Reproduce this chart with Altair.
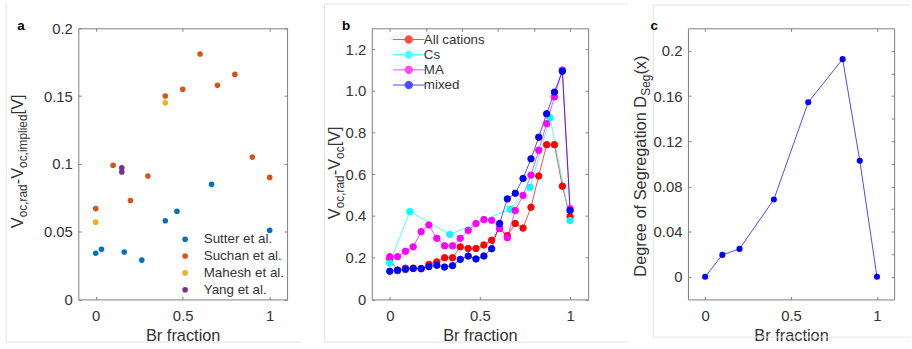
import altair as alt
import pandas as pd

FONT = "Liberation Sans"
TXT = "#333333"
FRAME = "#808080"
BORDER = "#e2e2e2"

# ---------------- data: panel a ----------------
sutter_x = [0.0, 0.033, 0.164, 0.265, 0.40, 0.467, 0.666, 1.0]
sutter_y = [0.034, 0.037, 0.035, 0.029, 0.058, 0.065, 0.085, 0.051]
suchan_x = [0.0, 0.1, 0.2, 0.3, 0.4, 0.5, 0.6, 0.7, 0.8, 0.9, 1.0]
suchan_y = [0.067, 0.099, 0.073, 0.091, 0.150, 0.155, 0.181, 0.158, 0.166, 0.105, 0.090]
mahesh_x = [0.0, 0.4]
mahesh_y = [0.057, 0.145]
yang_x = [0.15, 0.15]
yang_y = [0.097, 0.094]
a_names = ["Sutter et al.", "Suchan et al.", "Mahesh et al.", "Yang et al."]
a_colors = ["#0072BD", "#D95319", "#EDB120", "#7E2F8E"]

# ---------------- data: panel b ----------------
b_x = [0.0, 0.043, 0.087, 0.130, 0.174, 0.217, 0.261, 0.304, 0.348, 0.391, 0.435, 0.478,
       0.522, 0.565, 0.609, 0.652, 0.696, 0.739, 0.783, 0.826, 0.870, 0.913, 0.957, 1.0]
all_cations = [0.195, 0.138, 0.150, 0.150, 0.147, 0.168, 0.180, 0.200, 0.200, 0.252, 0.244, 0.244,
               0.261, 0.284, 0.340, 0.306, 0.364, 0.342, 0.442, 0.592, 0.742, 0.742, 0.543, 0.397]
cs_x = [0.0, 0.111, 0.333, 0.667, 0.778, 0.889, 1.0]
cs_y = [0.174, 0.421, 0.312, 0.432, 0.538, 0.871, 0.378]
ma_y = [0.205, 0.205, 0.231, 0.252, 0.325, 0.357, 0.293, 0.257, 0.257, 0.293, 0.331, 0.364,
        0.383, 0.379, 0.342, 0.296, 0.426, 0.499, 0.596, 0.715, 0.843, 0.971, 1.100, 0.435]
mixed_y = [0.135, 0.141, 0.144, 0.148, 0.148, 0.157, 0.164, 0.155, 0.162, 0.192, 0.208, 0.194,
           0.208, 0.243, 0.364, 0.482, 0.509, 0.580, 0.674, 0.778, 0.890, 0.994, 1.094, 0.426]
b_names = ["All cations", "Cs", "MA", "mixed"]
b_colors = ["#FF0000", "#00FFFF", "#FF00FF", "#0000FF"]

# ---------------- data: panel c ----------------
c_x = [0.0, 0.1, 0.2, 0.4, 0.6, 0.8, 0.9, 1.0]
c_y = [0.0, 0.0194, 0.0247, 0.0685, 0.1545, 0.1927, 0.1028, 0.0]

# ---------------- text helpers ----------------
NBSP = "\u00a0"
ARIAL = {' ': 278, NBSP: 278, '(': 333, ')': 333, ',': 278, '-': 333, '.': 278, '[': 278,
         ']': 278, 'D': 722, 'S': 667, 'V': 667, 'a': 556, 'c': 500, 'd': 556, 'e': 556,
         'f': 278, 'g': 556, 'i': 222, 'l': 222, 'm': 833, 'n': 556, 'o': 556, 'p': 556,
         'r': 333, 't': 278, 'x': 500}


def tw(s, size):
    return sum(ARIAL[ch] for ch in s) * size / 1000.0


MAIN, SUB, SHIFT = 16.5, 12.0, 4.0


def ytitle(frags, x0, yc):
    total = sum(tw(t, SUB if s else MAIN) for t, s in frags)
    y = yc + total / 2
    layers = []
    for t, s in frags:
        fs = SUB if s else MAIN
        layers.append(
            alt.Chart(pd.DataFrame({"t": [t]})).mark_text(
                angle=270, align="left", baseline="alphabetic", font=FONT,
                fontSize=fs, color=TXT
            ).encode(text="t:N", x=alt.value(x0 + (SHIFT if s else 0)), y=alt.value(y))
        )
        y -= tw(t, fs)
    return layers


def label(txt, x, y):
    return alt.Chart(pd.DataFrame({"t": [txt]})).mark_text(
        align="left", baseline="alphabetic", font=FONT, fontSize=13.5,
        fontWeight="bold", color="black"
    ).encode(text="t:N", x=alt.value(x), y=alt.value(y))


def rule(x1, y1, x2, y2):
    return alt.Chart(pd.DataFrame({"t": [0]})).mark_rule(
        color=BORDER, strokeWidth=1
    ).encode(x=alt.value(x1), x2=alt.value(x2), y=alt.value(y1), y2=alt.value(y2))


def anchor(l, r, t, b):
    return alt.Chart(pd.DataFrame({"t": [0]})).mark_rect(opacity=0).encode(
        x=alt.value(l), x2=alt.value(r), y=alt.value(t), y2=alt.value(b))


def ax_bottom(values):
    return alt.Axis(orient="bottom", values=values, format="~g", title="Br fraction",
                    domain=False, grid=False, tickSize=3, offset=-3, tickColor=FRAME,
                    labelFont=FONT, labelFontSize=15, labelColor=TXT, labelPadding=9,
                    titleFont=FONT, titleFontSize=16.5, titleFontWeight="normal",
                    titleColor=TXT, titlePadding=4.5)


def ax_left(values, fmt=None, expr=None):
    kw = dict(orient="left", values=values, title=None, domain=False, grid=False,
              tickSize=3, offset=-3, tickColor=FRAME, labelFont=FONT, labelFontSize=15,
              labelColor=TXT, labelPadding=6)
    if fmt:
        kw["format"] = fmt
    if expr:
        kw["labelExpr"] = expr
    return alt.Axis(**kw)


def ax_minor(orient, values):
    return alt.Axis(orient=orient, values=values, title=None, labels=False, domain=False,
                    grid=False, tickSize=3, offset=-3, tickColor=FRAME)


TOP = 26.5
H = 273.5

# ================= panel a =================
rows = []
for n, xs, ys in [(a_names[0], sutter_x, sutter_y), (a_names[1], suchan_x, suchan_y),
                  (a_names[2], mahesh_x, mahesh_y), (a_names[3], yang_x, yang_y)]:
    for xv, yv in zip(xs, ys):
        rows.append({"x": xv, "y": yv, "src": n})
dfa = pd.DataFrame(rows)
WA, LA = 210.6, 77.7
xsa = alt.Scale(domain=[-0.05, 1.05])
ysa = alt.Scale(domain=[0, 0.2])

pts_a = alt.Chart(dfa).mark_circle(size=32, opacity=1).encode(
    x=alt.X("x:Q", scale=xsa, axis=ax_bottom([0, 0.5, 1])),
    y=alt.Y("y:Q", scale=ysa, axis=ax_left([0, 0.05, 0.1, 0.15, 0.2], fmt="~g")),
    color=alt.Color("src:N", scale=alt.Scale(domain=a_names, range=a_colors),
                    legend=alt.Legend(orient="none", legendX=101, legendY=206, title=None,
                                      labelFont=FONT, labelFontSize=13.5, labelColor=TXT,
                                      symbolType="circle", symbolSize=32, rowPadding=2,
                                      labelOffset=12, padding=0)),
)
ghost_a = alt.Chart(dfa).mark_point(opacity=0).encode(
    x=alt.X("x:Q", axis=ax_minor("top", [0, 0.5, 1])),
    y=alt.Y("y:Q", axis=ax_minor("right", [0, 0.05, 0.1, 0.15, 0.2])),
)
title_a = ytitle([("V", False), ("oc,rad", True), ("-V", False), ("oc,implied", True),
                  (NBSP + "[V]", False)], -55.7, 131.9)
panel_a = alt.layer(
    anchor(-LA, 306 - LA, -TOP, 349 - TOP),
    rule(5 - LA, 2 - TOP, 5 - LA, 343 - TOP),
    rule(5 - LA, 343 - TOP, 304 - LA, 343 - TOP),
    pts_a, ghost_a, *title_a, label("a", 16 - LA, 28 - TOP)
).resolve_axis(x="independent", y="independent").properties(width=WA, height=H)

# ================= panel b =================
rows = []
for n, xs, ys in [(b_names[0], b_x, all_cations), (b_names[1], cs_x, cs_y),
                  (b_names[2], b_x, ma_y), (b_names[3], b_x, mixed_y)]:
    for xv, yv in zip(xs, ys):
        rows.append({"x": xv, "y": yv, "s": n})
dfb = pd.DataFrame(rows)
WB, LB = 218.3, 371.7
xsb = alt.Scale(domain=[-0.05, 1.05])
ysb = alt.Scale(domain=[0, 1.3])
csb = alt.Scale(domain=b_names, range=b_colors)
sym = "M-4,0L4,0M0.95,0A0.95,0.95,0,1,1,-0.95,0A0.95,0.95,0,1,1,0.95,0Z"
leg_b = alt.Legend(orient="none", legendX=30.6, legendY=4.6, title=None, labelFont=FONT,
                   labelFontSize=13.5, labelColor=TXT, symbolType=sym, symbolSize=64,
                   symbolStrokeWidth=1, rowPadding=0.3, labelOffset=8.4, padding=0)

lines_b = alt.Chart(dfb).mark_line(strokeWidth=1, opacity=0.7).encode(
    x=alt.X("x:Q", scale=xsb, axis=ax_bottom([0, 0.5, 1])),
    y=alt.Y("y:Q", scale=ysb, axis=ax_left([0, 0.2, 0.4, 0.6, 0.8, 1.0, 1.2],
                                           expr="datum.value == 0 ? '0' : format(datum.value, '.1f')")),
    color=alt.Color("s:N", scale=csb, legend=leg_b),
    order=alt.Order("x:Q"),
)
pts_b = alt.Chart(dfb).mark_point(filled=True, shape="circle", size=42, strokeWidth=1,
                                  opacity=1).encode(
    x=alt.X("x:Q", axis=None),
    y=alt.Y("y:Q", axis=None),
    color=alt.Color("s:N", scale=csb, legend=leg_b),
    stroke=alt.Stroke("s:N", scale=csb, legend=leg_b),
)
ghost_b = alt.Chart(dfb).mark_point(opacity=0).encode(
    x=alt.X("x:Q", axis=ax_minor("top", [0, 0.2, 0.4, 0.6, 0.8, 1.0])),
    y=alt.Y("y:Q", axis=ax_minor("right", [0, 0.2, 0.4, 0.6, 0.8, 1.0, 1.2])),
)
title_b = ytitle([("V", False), ("oc,rad", True), ("-V", False), ("oc", True),
                  (NBSP + "[V]", False)], -32.0, 143.5)
panel_b = alt.layer(
    anchor(306 - LB, 630 - LB, -TOP, 349 - TOP),
    rule(324 - LB, 2 - TOP, 324 - LB, 343 - TOP),
    rule(324 - LB, 2 - TOP, 630 - LB, 2 - TOP),
    rule(324 - LB, 343 - TOP, 630 - LB, 343 - TOP),
    lines_b, pts_b, ghost_b, *title_b, label("b", 341.7 - LB, 28 - TOP)
).resolve_axis(x="independent", y="independent").properties(width=WB, height=H)

# ================= panel c =================
dfc = pd.DataFrame({"x": c_x, "y": c_y})
WC, LC = 208.0, 687.7
xsc = alt.Scale(domain=[-0.05, 1.05])
ysc = alt.Scale(domain=[-0.01, 0.22])
line_c = alt.Chart(dfc).mark_line(color="#4a4aff", strokeWidth=1).encode(
    x=alt.X("x:Q", scale=xsc, axis=ax_bottom([0, 0.5, 1])),
    y=alt.Y("y:Q", scale=ysc, axis=ax_left([0, 0.04, 0.08, 0.12, 0.16, 0.2], fmt="~g")),
)
pts_c = alt.Chart(dfc).mark_circle(size=38, color="#0000FF", opacity=1).encode(
    x=alt.X("x:Q", axis=None), y=alt.Y("y:Q", axis=None))
ghost_c = alt.Chart(dfc).mark_point(opacity=0).encode(
    x=alt.X("x:Q", axis=ax_minor("top", [0, 0.5, 1])),
    y=alt.Y("y:Q", axis=ax_minor("right", [0, 0.02, 0.04, 0.06, 0.08, 0.1, 0.12, 0.14,
                                            0.16, 0.18, 0.2])),
)
title_c = ytitle([("Degree of Segregation D", False), ("Seg", True), ("(x)", False)],
                 -42.7, 139.0)
panel_c = alt.layer(
    anchor(630 - LC, 912 - LC, -TOP, 349 - TOP),
    rule(652.7 - LC, 3 - TOP, 652.7 - LC, 338 - TOP),
    rule(652.7 - LC, 3 - TOP, 912 - LC, 3 - TOP),
    rule(652.7 - LC, 338 - TOP, 912 - LC, 338 - TOP),
    line_c, pts_c, ghost_c, *title_c, label("c", 650 - LC, 28 - TOP)
).resolve_axis(x="independent", y="independent").properties(width=WC, height=H)

chart = alt.hconcat(panel_a, panel_b, panel_c, spacing=0).resolve_scale(
    color="independent", stroke="independent"
).resolve_legend(color="independent", stroke="independent").configure_view(
    stroke=FRAME, strokeWidth=1
).properties(padding=0, background="white")

chart.save("out.html", embed_options={"renderer": "svg", "actions": False})
